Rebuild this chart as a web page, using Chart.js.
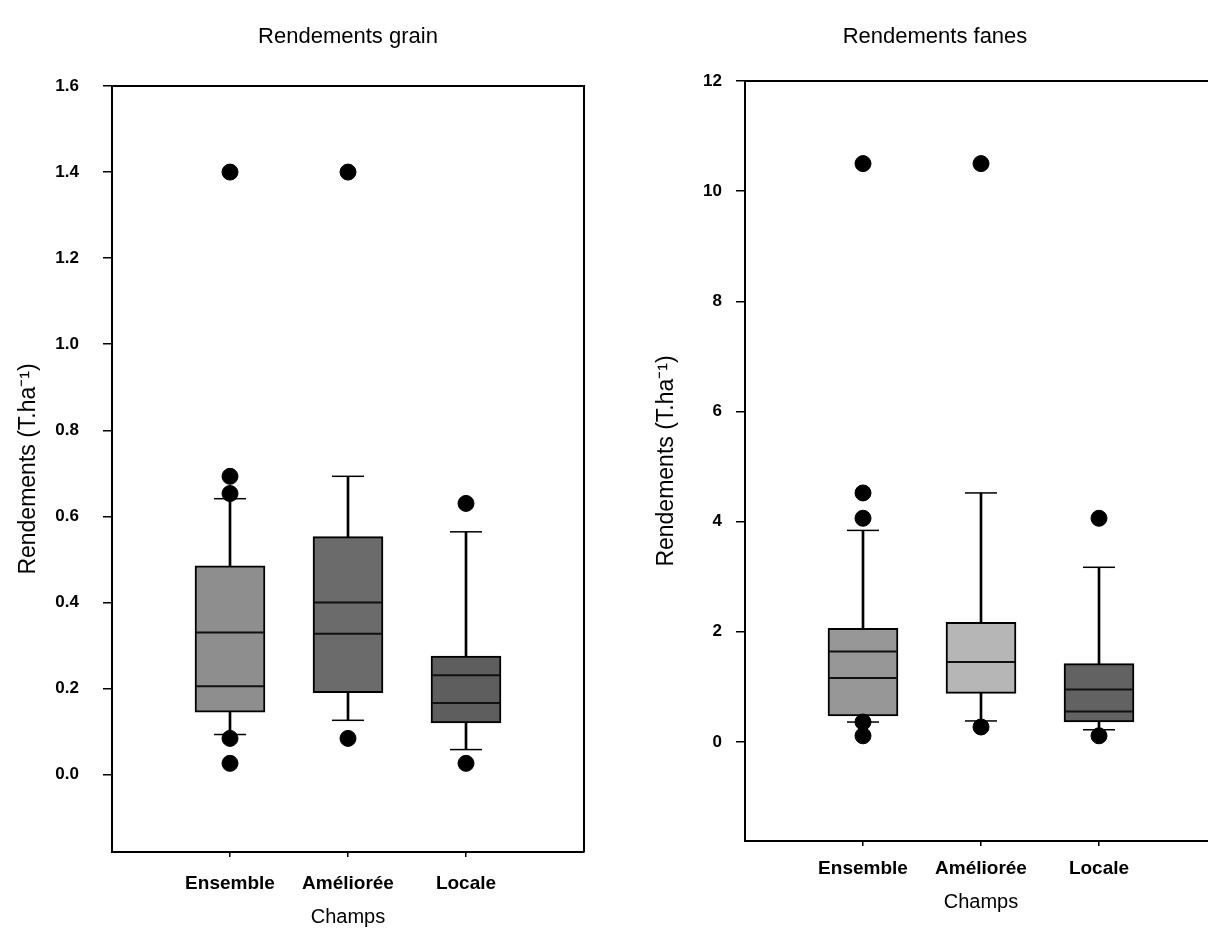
<!DOCTYPE html>
<html>
<head>
<meta charset="utf-8">
<script src="https://cdn.jsdelivr.net/npm/chart.js@4.4.1/dist/chart.umd.min.js"></script>
<style>
  html, body { margin: 0; padding: 0; background: #fff; overflow: hidden; }
  #gauche { position: absolute; left: 0; top: 0; }
  #droite { position: absolute; left: 610px; top: 0; }
</style>
</head>
<body>
<canvas id="gauche" width="610" height="938"></canvas>
<canvas id="droite" width="664" height="938"></canvas>
<script>
// Catégories de champs
var categories = ['Ensemble', 'Améliorée', 'Locale'];

// Rendements grain (T.ha-1)
var grainQ1 = [0.145, 0.19, 0.12];
var grainQ3 = [0.485, 0.553, 0.275];
var grainMediane = [0.205, 0.327, 0.166];
var grainMoyenne = [0.33, 0.40, 0.231];
var grainMoustacheBas = [0.093, 0.126, 0.058];
var grainMoustacheHaut = [0.641, 0.693, 0.564];
var grainExtremes = [[1.40, 0.693, 0.653, 0.084, 0.026], [1.40, 0.084], [0.630, 0.026]];
var grainTicks = [0, 0.2, 0.4, 0.6, 0.8, 1.0, 1.2, 1.4, 1.6];

// Rendements fanes (T.ha-1)
var fanesQ1 = [0.47, 0.88, 0.36];
var fanesQ3 = [2.06, 2.17, 1.42];
var fanesMediane = [1.16, 1.45, 0.55];
var fanesMoyenne = [1.64, 1.45, 0.95];
var fanesMoustacheBas = [0.36, 0.38, 0.22];
var fanesMoustacheHaut = [3.84, 4.52, 3.17];
var fanesExtremes = [[10.5, 4.52, 4.06, 0.36, 0.11], [10.5, 0.27], [4.06, 0.11]];
var fanesTicks = [0, 2, 4, 6, 8, 10, 12];

var police = 'Arial, "Liberation Sans", sans-serif';

// Cadre autour de la zone du graphique
var cadre = {
    id: 'cadre',
    afterDraw: function(chart) {
        var a = chart.chartArea;
        var ctx = chart.ctx;
        ctx.save();
        ctx.strokeStyle = '#000';
        ctx.lineWidth = 2;
        ctx.beginPath();
        ctx.moveTo(a.left, a.top);
        ctx.lineTo(a.right, a.top);
        ctx.lineTo(a.right, a.bottom);
        ctx.stroke();
        ctx.restore();
    }
};

// Construit les jeux de données d'une boîte à moustaches
function boites(q1, q3, mediane, moyenne, bas, haut, extremes, couleurs) {
    var lignes = [], caps = [], points = [];
    categories.forEach(function(c, i) {
        lignes.push({x: i + 1, y: mediane[i]});
        lignes.push({x: i + 1, y: moyenne[i]});
        caps.push({x: i + 1, y: bas[i]});
        caps.push({x: i + 1, y: haut[i]});
        extremes[i].forEach(function(v) {
            points.push({x: i + 1, y: v});
        });
    });
    return [
        {
            type: 'bar',
            data: categories.map(function(c, i) { return {x: i + 1, y: [bas[i], haut[i]]}; }),
            backgroundColor: '#000',
            barThickness: 2,
            grouped: false,
            order: 5
        },
        {
            type: 'bar',
            data: categories.map(function(c, i) { return {x: i + 1, y: [q1[i], q3[i]]}; }),
            backgroundColor: couleurs,
            borderColor: '#000',
            borderWidth: 2,
            borderSkipped: false,
            barThickness: 70,
            grouped: false,
            order: 4
        },
        {
            type: 'line',
            data: lignes,
            showLine: false,
            pointStyle: 'line',
            pointRadius: 34,
            pointBorderWidth: 2,
            pointBorderColor: '#111',
            order: 3
        },
        {
            type: 'line',
            data: caps,
            showLine: false,
            pointStyle: 'line',
            pointRadius: 16,
            pointBorderWidth: 1.5,
            pointBorderColor: '#000',
            order: 3
        },
        {
            type: 'line',
            data: points,
            showLine: false,
            pointStyle: 'circle',
            pointRadius: 8,
            pointBackgroundColor: '#000',
            pointBorderColor: '#000',
            order: 1
        }
    ];
}

function graphique(id, titre, datasets, yMin, yMax, ticks, decimales, p) {
    var ctx = document.getElementById(id).getContext('2d');
    return new Chart(ctx, {
        type: 'bar',
        data: { datasets: datasets },
        plugins: [cadre],
        options: {
            responsive: false,
            animation: false,
            events: [],
            layout: {
                autoPadding: false,
                padding: { left: p.gauche, right: p.droite, top: 0, bottom: 0 }
            },
            plugins: {
                legend: { display: false },
                tooltip: { enabled: false },
                title: {
                    display: true,
                    text: titre,
                    color: '#000',
                    fullSize: p.pleine,
                    font: { family: police, size: 22, weight: 'normal', lineHeight: 1.2 },
                    padding: { top: 24, bottom: p.haut - 24 - 26.4 }
                }
            },
            scales: {
                x: {
                    type: 'linear',
                    min: 0,
                    max: 4,
                    offset: false,
                    afterBuildTicks: function(s) {
                        s.ticks = categories.map(function(c, i) { return {value: i + 1}; });
                    },
                    afterFit: function(s) {
                        s.height = 938 - p.bas;
                        s.paddingLeft = 0;
                        s.paddingRight = 0;
                    },
                    ticks: {
                        color: '#000',
                        padding: p.tickX,
                        maxRotation: 0,
                        autoSkip: false,
                        font: { family: police, size: 19, weight: 'bold' },
                        callback: function(v) { return categories[v - 1]; }
                    },
                    grid: { offset: false, drawOnChartArea: false, tickLength: 5, color: '#000', lineWidth: 1.5 },
                    border: { color: '#000', width: 2 },
                    title: {
                        display: true,
                        text: 'Champs',
                        color: '#000',
                        font: { family: police, size: 20 },
                        padding: { top: 0, bottom: p.champs }
                    }
                },
                y: {
                    min: yMin,
                    max: yMax,
                    afterBuildTicks: function(s) {
                        s.ticks = ticks.map(function(v) { return {value: v}; });
                    },
                    afterFit: function(s) { s.width = p.axe; },
                    ticks: {
                        color: '#000',
                        padding: p.tickY,
                        font: { family: police, size: 17, weight: 'bold' },
                        callback: function(v) { return v.toFixed(decimales); }
                    },
                    grid: { drawOnChartArea: false, tickLength: 9, color: '#000', lineWidth: 1.5 },
                    border: { color: '#000', width: 2 },
                    title: {
                        display: true,
                        text: 'Rendements (T.ha⁻¹)',
                        color: '#000',
                        font: { family: police, size: 23 },
                        padding: { top: p.titreY, bottom: 0 }
                    }
                }
            }
        }
    });
}

graphique('gauche', 'Rendements grain',
    boites(grainQ1, grainQ3, grainMediane, grainMoyenne, grainMoustacheBas, grainMoustacheHaut,
        grainExtremes, ['#8e8e8e', '#6b6b6b', '#5e5e5e']),
    -0.18, 1.6, grainTicks, 1,
    { gauche: 0, droite: 26, pleine: false, haut: 86, bas: 852, axe: 112, champs: 9, titreY: 15, tickX: 15, tickY: 24 });

graphique('droite', 'Rendements fanes',
    boites(fanesQ1, fanesQ3, fanesMediane, fanesMoyenne, fanesMoustacheBas, fanesMoustacheHaut,
        fanesExtremes, ['#979797', '#b6b6b6', '#626262']),
    -1.8, 12, fanesTicks, 0,
    { gauche: 43, droite: 57, pleine: true, haut: 81, bas: 841, axe: 92, champs: 24, titreY: 0, tickX: 11, tickY: 14 });
</script>
</body>
</html>
